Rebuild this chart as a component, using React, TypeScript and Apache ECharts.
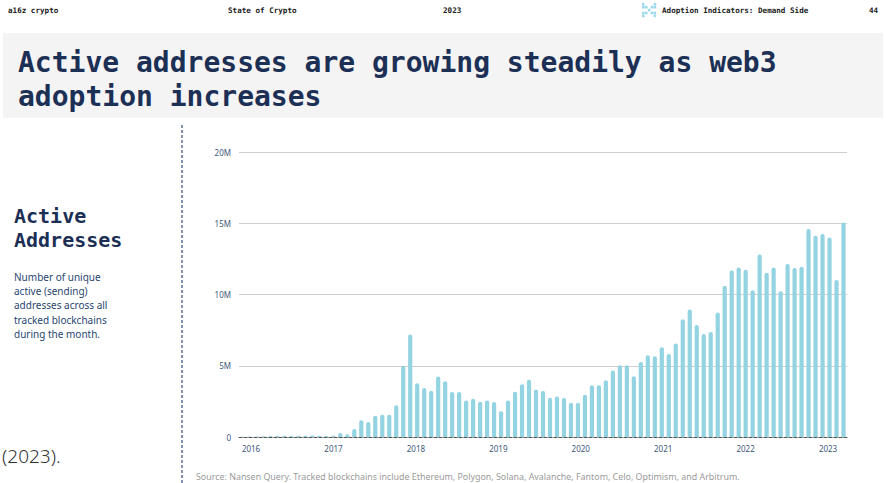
import React, { useEffect, useRef } from 'react';
import * as echarts from 'echarts';

// Year tick labels (January of each year)
const years = ['2016', '2017', '2018', '2019', '2020', '2021', '2022', '2023'];
const monthCodes = ['01', '02', '03', '04', '05', '06', '07', '08', '09', '10', '11', '12'];

// Monthly active (sending) addresses, in millions
const active2016 = [0.02, 0.03, 0.04, 0.06, 0.07, 0.08, 0.08, 0.07, 0.09, 0.09, 0.1, 0.09];
const active2017 = [0.07, 0.08, 0.28, 0.2, 0.56, 1.17, 1.05, 1.49, 1.56, 1.56, 2.22, 5.0];
const active2018 = [7.19, 3.78, 3.43, 3.24, 4.25, 3.92, 3.15, 3.15, 2.57, 2.68, 2.48, 2.57];
const active2019 = [2.45, 1.8, 2.57, 3.17, 3.71, 4.01, 3.34, 3.22, 2.75, 2.85, 2.73, 2.4];
const active2020 = [2.4, 2.96, 3.64, 3.64, 3.98, 4.67, 5.04, 5.04, 4.27, 5.27, 5.74, 5.67];
const active2021 = [6.3, 5.83, 6.56, 8.26, 8.94, 7.86, 7.23, 7.37, 8.73, 10.62, 11.69, 11.9];
const active2022 = [11.74, 10.29, 12.81, 11.53, 11.9, 10.22, 12.14, 11.86, 11.95, 14.59, 14.12, 14.24];
const active2023 = [14.0, 11.01, 15.05];

const yearlyValues = [active2016, active2017, active2018, active2019, active2020, active2021, active2022, active2023];

// year-label axis range (in years), as the reference's time labels sit
const yearAxisMin = 2015.854;
const yearAxisMax = 2023.23;
const yearTickValues = [2016, 2017, 2018, 2019, 2020, 2021, 2022, 2023];

// y-axis ticks (millions)
const yMin = 0;
const yMax = 20;
const yStep = 5;

const titleLines = ['Active addresses are growing steadily as web3', 'adoption increases'];
const panelTitle = ['Active', 'Addresses'];
const panelText = [
  'Number of unique',
  'active (sending)',
  'addresses across all',
  'tracked blockchains',
  'during the month.',
];
const sourceText =
  'Source: Nansen Query. Tracked blockchains include Ethereum, Polygon, Solana, Avalanche, Fantom, Celo, Optimism, and Arbitrum.';

const NAVY = '#1c2f55';
const MONO = '"DejaVu Sans Mono", "Liberation Mono", monospace';
const SANS = '"Noto Sans", "Open Sans", sans-serif';

export default function App() {
  const ref = useRef<HTMLDivElement>(null);

  useEffect(() => {
    if (!ref.current) return;
    const chart = echarts.init(ref.current, null, { renderer: 'svg' });

    const categories: string[] = [];
    const values: number[] = [];
    yearlyValues.forEach((arr, yi) => {
      arr.forEach((v, mi) => {
        categories.push(years[yi] + '-' + monthCodes[mi]);
        values.push(v);
      });
    });

    const logoCells = [
      [0, 0], [4, 0], [1, 1], [3, 1], [2, 2], [1, 3], [3, 3], [0, 4], [4, 4],
      [0, 1], [4, 1], [0, 3], [4, 3],
    ];

    const headerFont = `bold 7.6px ${MONO}`;

    const graphics: any[] = [
      {
        type: 'rect',
        shape: { x: 3, y: 33, width: 880, height: 85 },
        style: { fill: '#f4f4f4' },
        z: -10,
      },
      // header texts
      { type: 'text', x: 8, y: 10, style: { text: 'a16z crypto', font: headerFont, fill: '#222', verticalAlign: 'middle' } },
      { type: 'text', x: 228, y: 10, style: { text: 'State of Crypto', font: headerFont, fill: '#222', verticalAlign: 'middle' } },
      { type: 'text', x: 443, y: 10, style: { text: '2023', font: headerFont, fill: '#222', verticalAlign: 'middle' } },
      { type: 'text', x: 662, y: 10, style: { text: 'Adoption Indicators: Demand Side', font: headerFont, fill: '#222', verticalAlign: 'middle' } },
      { type: 'text', x: 869, y: 10, style: { text: '44', font: headerFont, fill: '#222', verticalAlign: 'middle' } },
      ...logoCells.map(([cx, cy]) => ({
        type: 'rect',
        shape: { x: 642 + cx * 2.9, y: 3 + cy * 2.9, width: 2.6, height: 2.6 },
        style: { fill: '#9dd8ea' },
      })),
      // title
      ...titleLines.map((t, i) => ({
        type: 'text',
        x: 18,
        y: 62 + i * 34,
        style: { text: t, font: `bold 28px ${MONO}`, fill: NAVY, verticalAlign: 'middle' },
      })),
      // left panel
      ...panelTitle.map((t, i) => ({
        type: 'text',
        x: 14,
        y: 216 + i * 24,
        style: { text: t, font: `bold 20px ${MONO}`, fill: NAVY, verticalAlign: 'middle' },
      })),
      ...panelText.map((t, i) => ({
        type: 'text',
        x: 14,
        y: 277 + i * 14.2,
        style: { text: t, font: `10px ${SANS}`, fill: '#27466f', verticalAlign: 'middle' },
      })),
      {
        type: 'text',
        x: 2,
        y: 456,
        style: { text: '(2023).', font: `300 19px ${SANS}`, fill: '#333', verticalAlign: 'middle' },
      },
      // divider
      {
        type: 'line',
        shape: { x1: 182, y1: 125, x2: 182, y2: 483 },
        style: { stroke: '#5a6f96', lineWidth: 1.5, lineDash: [3, 2] },
      },
      // source
      {
        type: 'text',
        x: 196,
        y: 476,
        style: { text: sourceText, font: `8.9px ${SANS}`, fill: '#9a9a9a', verticalAlign: 'middle' },
      },
    ];

    chart.setOption({
      animation: false,
      backgroundColor: '#ffffff',
      grid: { left: 239, right: 39, top: 152, bottom: 46, containLabel: false },
      xAxis: [
        {
          type: 'category',
          data: categories,
          boundaryGap: true,
          z: 5,
          axisLine: { show: true, lineStyle: { color: '#555', width: 1, type: [3, 2] } },
          axisTick: { show: false },
          splitLine: { show: false },
          axisLabel: { show: false },
        },
        {
          type: 'value',
          position: 'bottom',
          min: yearAxisMin,
          max: yearAxisMax,
          axisLine: { show: false },
          axisTick: { show: false },
          splitLine: { show: false },
          axisLabel: {
            customValues: yearTickValues,
            formatter: (v: number) => String(Math.round(v)),
            color: '#3e587c',
            fontFamily: SANS,
            fontSize: 8,
            margin: 7,
            showMinLabel: true,
            showMaxLabel: true,
          },
        },
      ],
      yAxis: {
        type: 'value',
        min: yMin,
        max: yMax,
        interval: yStep,
        axisLine: { show: false },
        axisTick: { show: false },
        splitLine: { show: true, lineStyle: { color: '#cfcfcf', width: 1 } },
        axisLabel: {
          formatter: (v: number) => (v === 0 ? '0' : v + 'M'),
          color: '#3e587c',
          fontFamily: SANS,
          fontSize: 8,
          margin: 8,
        },
      },
      series: [
        {
          type: 'bar',
          xAxisIndex: 0,
          data: values,
          barWidth: '60%',
          itemStyle: { color: '#93d3e2', borderRadius: [2, 2, 0, 0] },
          emphasis: { disabled: true },
        },
      ],
      graphic: graphics,
    });

    return () => chart.dispose();
  }, []);

  return (
    <div
      ref={ref}
      style={{ position: 'fixed', left: 0, top: 0, width: 886, height: 483, background: '#fff' }}
    />
  );
}
